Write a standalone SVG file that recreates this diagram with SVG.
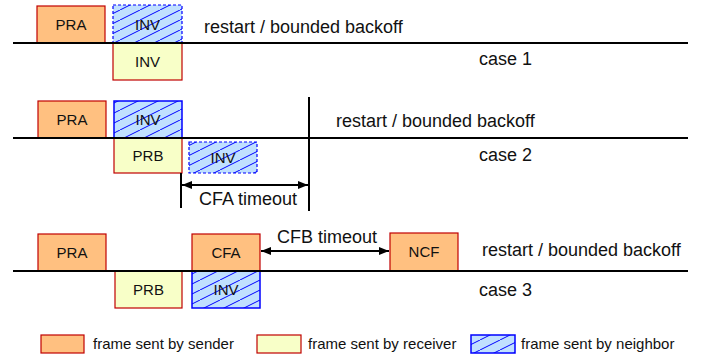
<svg xmlns="http://www.w3.org/2000/svg" width="704" height="358" viewBox="0 0 704 358">
<defs>
<pattern id="hatch" patternUnits="userSpaceOnUse" width="20" height="10">
<rect width="20" height="10" fill="#C0E0FF"/>
<line x1="-2" y1="11" x2="22" y2="-1" stroke="#0000FF" stroke-width="1"/>
</pattern>
<marker id="ah" markerWidth="10" markerHeight="8" refX="10" refY="4" orient="auto-start-reverse" markerUnits="userSpaceOnUse">
<path d="M0,0 L10,4 L0,8 Z" fill="#000"/>
</marker>
</defs>
<style>
.snd{fill:#FFC080;stroke:#C00000;stroke-width:1.2}
.rcv{fill:#F8FFC8;stroke:#C00000;stroke-width:1.2}
.nbr{fill:url(#hatch);stroke:#0000FF;stroke-width:1.5}
.nbrd{fill:url(#hatch);stroke:#0000FF;stroke-width:1.2;stroke-dasharray:3 2}
.lbl{font-family:"Liberation Sans",Arial,sans-serif;font-size:15px;fill:#111;text-anchor:middle}
.txt{font-family:"Liberation Sans",Arial,sans-serif;font-size:18px;fill:#111}
.leg{font-family:"Liberation Sans",Arial,sans-serif;font-size:15px;fill:#111}
.tl{stroke:#000;stroke-width:2;fill:none}
</style>

<!-- Case 1 -->
<g id="c1-pra"><rect class="snd" x="37" y="6" width="68" height="37"/><text class="lbl" x="71" y="30">PRA</text></g>
<g id="c1-inv-top"><rect class="nbrd" x="113" y="5" width="69" height="38"/><text class="lbl" x="147.5" y="30">INV</text></g>
<g id="c1-inv-bot"><rect class="rcv" x="113" y="43" width="69" height="37"/><text class="lbl" x="147.5" y="67">INV</text></g>
<text class="txt" x="204" y="33">restart / bounded backoff</text>
<text class="txt" x="479" y="65">case 1</text>

<!-- Case 2 -->
<g id="c2-pra"><rect class="snd" x="38" y="101" width="68" height="37"/><text class="lbl" x="72" y="125">PRA</text></g>
<g id="c2-inv-top"><rect class="nbr" x="114" y="101" width="68" height="37"/><text class="lbl" x="148" y="125">INV</text></g>
<g id="c2-prb"><rect class="rcv" x="114" y="138" width="68" height="35"/><text class="lbl" x="148" y="161">PRB</text></g>
<g id="c2-inv-bot"><rect class="nbrd" x="189" y="142" width="68" height="31"/><text class="lbl" x="223" y="163">INV</text></g>
<text class="txt" x="336" y="127">restart / bounded backoff</text>
<text class="txt" x="479" y="161">case 2</text>
<text class="txt" x="199" y="205">CFA timeout</text>

<!-- Case 3 -->
<g id="c3-pra"><rect class="snd" x="38" y="234" width="68" height="37"/><text class="lbl" x="72" y="258">PRA</text></g>
<g id="c3-prb"><rect class="rcv" x="115" y="271" width="67" height="37"/><text class="lbl" x="148.5" y="295">PRB</text></g>
<g id="c3-cfa"><rect class="snd" x="192" y="234" width="68" height="37"/><text class="lbl" x="226" y="258">CFA</text></g>
<g id="c3-inv"><rect class="nbr" x="192" y="271" width="68" height="37"/><text class="lbl" x="226" y="295">INV</text></g>
<g id="c3-ncf"><rect class="snd" x="390" y="233" width="68" height="38"/><text class="lbl" x="424" y="257">NCF</text></g>
<text class="txt" x="277" y="243">CFB timeout</text>
<text class="txt" x="482" y="256">restart / bounded backoff</text>
<text class="txt" x="479" y="296">case 3</text>

<!-- Connectors / timelines -->
<g id="connectors">
<line class="tl" x1="13" y1="43" x2="688" y2="43"/>
<line class="tl" x1="13" y1="138" x2="688" y2="138"/>
<line class="tl" x1="13" y1="271" x2="688" y2="271"/>
<line class="tl" x1="181" y1="173" x2="181" y2="208"/>
<line class="tl" x1="309" y1="97" x2="309" y2="211"/>
<line class="tl" x1="182" y1="185" x2="308" y2="185" marker-start="url(#ah)" marker-end="url(#ah)"/>
<line class="tl" x1="261" y1="251" x2="389" y2="251" marker-start="url(#ah)" marker-end="url(#ah)"/>
</g>

<!-- Legend -->
<g id="legend-sender"><rect class="snd" x="41" y="335" width="43" height="18"/><text class="leg" x="93" y="349">frame sent by sender</text></g>
<g id="legend-receiver"><rect class="rcv" x="257" y="335" width="44" height="18"/><text class="leg" x="308" y="349">frame sent by receiver</text></g>
<g id="legend-neighbor"><rect class="nbr" x="471" y="335" width="44" height="18"/><text class="leg" x="521" y="349">frame sent by neighbor</text></g>
</svg>
